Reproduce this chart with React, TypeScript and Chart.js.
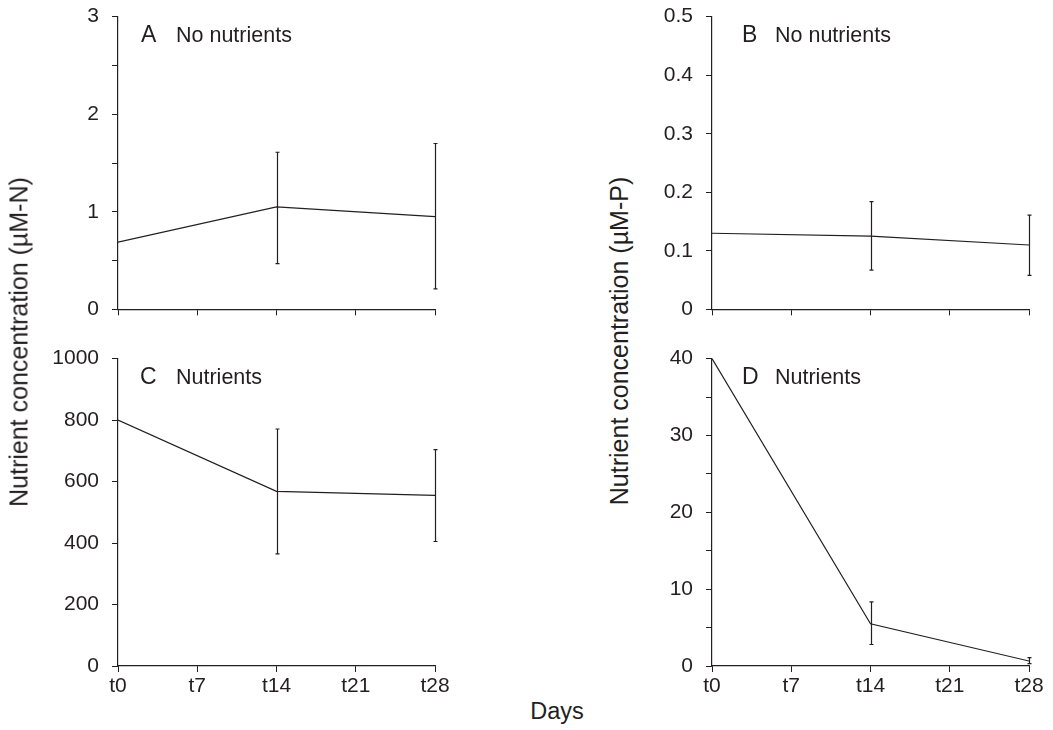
import React, { useEffect, useRef } from 'react';
import { Chart, registerables } from 'chart.js';

Chart.register(...registerables);

// ---- data ----
const days = [0, 14, 28];
const dayTicks = [0, 7, 14, 21, 28];

const nNoNutrients = [0.69, 1.05, 0.95];
const nNoNutrientsLow = [null, 0.47, 0.21];
const nNoNutrientsHigh = [null, 1.61, 1.7];

const pNoNutrients = [0.13, 0.125, 0.11];
const pNoNutrientsLow = [null, 0.067, 0.058];
const pNoNutrientsHigh = [null, 0.184, 0.161];

const nNutrients = [800, 568, 555];
const nNutrientsLow = [null, 365, 405];
const nNutrientsHigh = [null, 771, 704];

const pNutrients = [40, 5.5, 0.65];
const pNutrientsLow = [null, 2.8, 0.3];
const pNutrientsHigh = [null, 8.35, 1.1];

const yTicksA = [0, 0.5, 1, 1.5, 2, 2.5, 3];
const yTicksB = [0, 0.1, 0.2, 0.3, 0.4, 0.5];
const yTicksC = [0, 200, 400, 600, 800, 1000];
const yTicksD = [0, 5, 10, 15, 20, 25, 30, 35, 40];

const INK = '#231f20';
const FONT = '"Liberation Sans", Arial, Helvetica, sans-serif';

type PanelProps = {
  values: number[];
  low: (number | null)[];
  high: (number | null)[];
  yTicks: number[];
  labelStep: number;
  decimals: number;
  letter: string;
  caption: string;
  letterDx: number;
  captionDx: number;
  showXLabels: boolean;
  plot: { l: number; t: number; r: number; b: number };
  canvasLeft: number;
  canvasRight: number;
};

function Panel(p: PanelProps) {
  const ref = useRef<HTMLCanvasElement | null>(null);
  const padTop = 20;
  const xHeight = p.showXLabels ? 40 : 12;
  const top = p.plot.t - padTop;
  const width = p.canvasRight - p.canvasLeft;
  const height = p.plot.b - top + xHeight;
  const yWidth = p.plot.l - p.canvasLeft;
  const padRight = p.canvasRight - p.plot.r;

  useEffect(() => {
    if (!ref.current) return;
    const errorBars = {
      id: 'errorBars',
      afterDatasetsDraw(chart: any) {
        const ctx = chart.ctx;
        const xs = chart.scales.x;
        const ys = chart.scales.y;
        ctx.save();
        ctx.strokeStyle = INK;
        ctx.lineWidth = 1.2;
        days.forEach((d, i) => {
          const lo = p.low[i];
          const hi = p.high[i];
          if (lo == null || hi == null) return;
          const x = Math.round(xs.getPixelForValue(d)) + 0.5;
          const y1 = ys.getPixelForValue(lo);
          const y2 = ys.getPixelForValue(hi);
          ctx.beginPath();
          ctx.moveTo(x, y1);
          ctx.lineTo(x, y2);
          ctx.moveTo(x - 2, y1);
          ctx.lineTo(x + 2, y1);
          ctx.moveTo(x - 2, y2);
          ctx.lineTo(x + 2, y2);
          ctx.stroke();
        });
        ctx.restore();
      },
    };
    const panelLabel = {
      id: 'panelLabel',
      afterDraw(chart: any) {
        const ctx = chart.ctx;
        const a = chart.chartArea;
        ctx.save();
        ctx.fillStyle = INK;
        ctx.textBaseline = 'alphabetic';
        ctx.textAlign = 'left';
        ctx.font = `23px ${FONT}`;
        ctx.fillText(p.letter, a.left + p.letterDx, a.top + 25);
        ctx.font = `21.5px ${FONT}`;
        ctx.fillText(p.caption, a.left + p.captionDx, a.top + 25);
        ctx.restore();
      },
    };
    const chart = new Chart(ref.current, {
      type: 'line',
      data: {
        datasets: [
          {
            data: days.map((d, i) => ({ x: d, y: p.values[i] })),
            borderColor: INK,
            borderWidth: 1.2,
            pointRadius: 0,
            fill: false,
            tension: 0,
          },
        ],
      },
      options: {
        responsive: false,
        maintainAspectRatio: false,
        animation: false,
        devicePixelRatio: 1,
        layout: { padding: { top: padTop, right: padRight, left: 0, bottom: 0 } },
        plugins: { legend: { display: false }, tooltip: { enabled: false }, title: { display: false } },
        scales: {
          x: {
            type: 'linear',
            min: 0,
            max: 28,
            afterBuildTicks: (s: any) => {
              s.ticks = dayTicks.map((v) => ({ value: v }));
            },
            ticks: {
              display: p.showXLabels,
              callback: (v: any) => 't' + v,
              font: { size: 21, family: FONT },
              color: INK,
              padding: 2,
              maxRotation: 0,
              autoSkip: false,
            },
            grid: { drawOnChartArea: false, drawTicks: true, tickLength: 6, color: INK, lineWidth: 1 },
            border: { display: true, color: INK, width: 1.2 },
            afterFit: (s: any) => {
              s.height = xHeight;
            },
          },
          y: {
            type: 'linear',
            min: 0,
            max: p.yTicks[p.yTicks.length - 1],
            afterBuildTicks: (s: any) => {
              s.ticks = p.yTicks.map((v) => ({ value: v }));
            },
            ticks: {
              callback: (v: any) => {
                const n = Number(v);
                const k = n / p.labelStep;
                if (Math.abs(k - Math.round(k)) > 1e-6) return '';
                return n === 0 ? '0' : n.toFixed(p.decimals);
              },
              font: { size: 21, family: FONT },
              color: INK,
              padding: 13,
              autoSkip: false,
            },
            grid: { drawOnChartArea: false, drawTicks: true, tickLength: 6, color: INK, lineWidth: 1 },
            border: { display: true, color: INK, width: 1.2 },
            afterFit: (s: any) => {
              s.width = yWidth;
            },
          },
        },
      } as any,
      plugins: [errorBars, panelLabel],
    });
    return () => chart.destroy();
  }, []);

  return (
    <canvas
      ref={ref}
      width={width}
      height={height}
      style={{ position: 'absolute', left: p.canvasLeft, top, width, height }}
    />
  );
}

const titleStyle: React.CSSProperties = {
  position: 'absolute',
  fontFamily: FONT,
  fontSize: '25px',
  lineHeight: 1,
  color: INK,
  whiteSpace: 'nowrap',
};

export default function App() {
  return (
    <div
      style={{
        position: 'absolute',
        left: 0,
        top: 0,
        width: 1053,
        height: 730,
        background: '#fff',
        overflow: 'hidden',
      }}
    >
      <Panel
        values={nNoNutrients}
        low={nNoNutrientsLow}
        high={nNoNutrientsHigh}
        yTicks={yTicksA}
        labelStep={1}
        decimals={0}
        letter="A"
        caption="No nutrients"
        letterDx={23}
        captionDx={58}
        showXLabels={false}
        plot={{ l: 118, t: 11, r: 435, b: 323 }}
        canvasLeft={30}
        canvasRight={470}
      />
      <Panel
        values={pNoNutrients}
        low={pNoNutrientsLow}
        high={pNoNutrientsHigh}
        yTicks={yTicksB}
        labelStep={0.1}
        decimals={1}
        letter="B"
        caption="No nutrients"
        letterDx={30}
        captionDx={63}
        showXLabels={false}
        plot={{ l: 712, t: 11, r: 1029, b: 323 }}
        canvasLeft={640}
        canvasRight={1053}
      />
      <Panel
        values={nNutrients}
        low={nNutrientsLow}
        high={nNutrientsHigh}
        yTicks={yTicksC}
        labelStep={200}
        decimals={0}
        letter="C"
        caption="Nutrients"
        letterDx={22}
        captionDx={58}
        showXLabels={true}
        plot={{ l: 118, t: 353, r: 435, b: 666 }}
        canvasLeft={30}
        canvasRight={470}
      />
      <Panel
        values={pNutrients}
        low={pNutrientsLow}
        high={pNutrientsHigh}
        yTicks={yTicksD}
        labelStep={10}
        decimals={0}
        letter="D"
        caption="Nutrients"
        letterDx={30}
        captionDx={63}
        showXLabels={true}
        plot={{ l: 712, t: 353, r: 1029, b: 666 }}
        canvasLeft={640}
        canvasRight={1053}
      />
      <div style={{ ...titleStyle, left: 18.5, top: 342, transform: 'translate(-50%, -50%) rotate(-90deg)' }}>
        Nutrient concentration (µM-N)
      </div>
      <div style={{ ...titleStyle, left: 618.5, top: 341, transform: 'translate(-50%, -50%) rotate(-90deg)' }}>
        Nutrient concentration (µM-P)
      </div>
      <div style={{ ...titleStyle, fontSize: '23.5px', left: 557, top: 700, transform: 'translateX(-50%)' }}>Days</div>
    </div>
  );
}
